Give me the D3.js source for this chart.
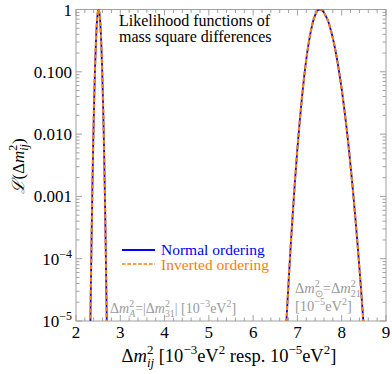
<!DOCTYPE html>
<html>
<head>
<meta charset="utf-8">
<script src="https://cdn.jsdelivr.net/npm/d3@7"></script>
<style>
  body { margin: 0; background: #fff; }
</style>
</head>
<body>
<svg></svg>
<script>
// atmospheric curve (Delta m^2_31, 10^-3 eV^2), log10 of likelihood
let atmX = [2.31, 2.33, 2.35, 2.37, 2.39, 2.41, 2.43, 2.45, 2.47, 2.49, 2.51,
            2.53, 2.55, 2.57, 2.59, 2.61, 2.63, 2.65, 2.67, 2.69, 2.71]
let atmNormal = [-5.86, -4.75, -3.75, -2.87, -2.11, -1.47, -0.94, -0.53, -0.23, -0.06, 0,
                 -0.06, -0.23, -0.53, -0.94, -1.47, -2.11, -2.87, -3.75, -4.75, -5.86]
let atmInverted = [-5.86, -4.75, -3.75, -2.87, -2.11, -1.47, -0.94, -0.53, -0.23, -0.06, 0,
                   -0.06, -0.23, -0.53, -0.94, -1.47, -2.11, -2.87, -3.75, -4.75, -5.86]

// solar curve (Delta m^2_21, 10^-5 eV^2)
let solX = [6.70, 6.75, 6.80, 6.85, 6.90, 6.95, 7.00, 7.05, 7.10, 7.15, 7.20, 7.25, 7.30,
            7.35, 7.40, 7.45, 7.50, 7.55, 7.60, 7.65, 7.70, 7.75, 7.80, 7.85, 7.90, 7.95,
            8.00, 8.05, 8.10, 8.15, 8.20, 8.25, 8.30, 8.35, 8.40, 8.45, 8.50, 8.55]
let solNormal = [-5.72, -5.02, -4.38, -3.77, -3.22, -2.70, -2.23, -1.81, -1.43, -1.09, -0.80, -0.56, -0.36,
                 -0.20, -0.09, -0.02, 0, -0.01, -0.05, -0.12, -0.20, -0.32, -0.46, -0.63, -0.82, -1.04,
                 -1.28, -1.55, -1.84, -2.16, -2.51, -2.88, -3.28, -3.70, -4.15, -4.62, -5.12, -5.64]
let solInverted = solNormal.slice()

let xTicks = [2, 3, 4, 5, 6, 7, 8, 9]
let yTicks = [1, 0.1, 0.01, 0.001, 1e-4, 1e-5]
let yTickLabels = ["1", "0.100", "0.010", "0.001", "10^-4", "10^-5"]

let width = 392
let height = 374
let padL = 76, padR = 386, padT = 9.5, padB = 321
let frameColor = "#a0a0a0"
let blue = "#0000ff"
let orange = "#ff8000"
let grey = "#9a9a9a"
let serif = "'Liberation Serif', 'Times New Roman', Times, serif"

let svg = d3.select('svg').attr('width', width).attr('height', height)
  .attr('font-family', serif)

let xScale = d3.scaleLinear().domain([2, 9]).range([padL, padR])
let yScale = d3.scaleLog().domain([1e-5, 1]).range([padB, padT])

// rich text: parts = [text, mode, italic]; mode n | sup | sub | subk (sub under previous sup)
let rich = (sel, parts, fs) => {
  let shift = 0
  let lastSupW = 0
  parts.forEach(p => {
    let mode = p[1] || 'n'
    let target = mode == 'sup' ? -0.42 * fs : (mode == 'sub' || mode == 'subk') ? 0.25 * fs : 0
    let t = sel.append('tspan').text(p[0]).attr('dy', target - shift)
    if (mode != 'n') t.attr('font-size', fs * 0.7)
    if (mode == 'subk') t.attr('dx', -lastSupW)
    if (mode == 'sup') lastSupW = p[0].length * fs * 0.7 * 0.5
    if (p[2]) t.attr('font-style', 'italic')
    shift = target
  })
}

// frame
svg.append('rect')
  .attr('x', padL).attr('y', padT)
  .attr('width', padR - padL).attr('height', padB - padT)
  .attr('fill', 'none').attr('stroke', frameColor).attr('stroke-width', 1)

// x ticks (bottom + top)
let xMinor = d3.range(2, 9.001, 0.2).map(v => Math.round(v * 10) / 10)
xMinor.forEach(v => {
  let major = Number.isInteger(v)
  let len = major ? 6 : 3.5
  let x = xScale(v)
  svg.append('line').attr('x1', x).attr('x2', x).attr('y1', padB).attr('y2', padB - len)
    .attr('stroke', frameColor)
  svg.append('line').attr('x1', x).attr('x2', x).attr('y1', padT).attr('y2', padT + len)
    .attr('stroke', frameColor)
})
svg.selectAll('.xlab').data(xTicks).enter().append('text')
  .attr('x', d => xScale(d)).attr('y', 338)
  .attr('text-anchor', 'middle').attr('font-size', 17)
  .text(d => d)

// y ticks (left + right)
for (let e = -5; e <= 0; e++) {
  for (let m = 1; m <= 9; m++) {
    let v = m * Math.pow(10, e)
    let len = m == 1 ? 6 : 3.5
    let y = yScale(v)
    svg.append('line').attr('x1', padL).attr('x2', padL + len).attr('y1', y).attr('y2', y)
      .attr('stroke', frameColor)
    svg.append('line').attr('x1', padR).attr('x2', padR - len).attr('y1', y).attr('y2', y)
      .attr('stroke', frameColor)
    if (e == 0) break
  }
}
yTicks.forEach((v, i) => {
  let t = svg.append('text')
    .attr('x', 72).attr('y', yScale(v) + 6)
    .attr('text-anchor', 'end').attr('font-size', 17)
  let lab = yTickLabels[i]
  if (lab.indexOf('^') >= 0) {
    let p = lab.split('^')
    rich(t, [[p[0]], [p[1].replace('-', '\u2212'), 'sup']], 17)
  } else {
    t.text(lab)
  }
})

// curves
svg.append('clipPath').attr('id', 'clip').append('rect')
  .attr('x', padL).attr('y', padT).attr('width', padR - padL).attr('height', padB - padT)

let line = d3.line()
  .x(d => xScale(d[0]))
  .y(d => yScale(Math.pow(10, d[1])))
  .curve(d3.curveMonotoneX)

let g = svg.append('g').attr('clip-path', 'url(#clip)')
let series = [
  [atmX, atmNormal, blue, null],
  [solX, solNormal, blue, null],
  [atmX, atmInverted, orange, '4,2.2'],
  [solX, solInverted, orange, '4,2.2']
]
series.forEach(s => {
  let pts = s[0].map((x, i) => [x, s[1][i]])
  let p = g.append('path').attr('d', line(pts))
    .attr('fill', 'none').attr('stroke', s[2])
    .attr('stroke-width', s[3] ? 2.2 : 1.8)
  if (s[3]) p.attr('stroke-dasharray', s[3])
})

// title
svg.append('text').attr('x', 119).attr('y', 26).attr('font-size', 16)
  .text('Likelihood functions of')
svg.append('text').attr('x', 119).attr('y', 42).attr('font-size', 16)
  .text('mass square differences')

// legend
svg.append('line').attr('x1', 122).attr('x2', 155).attr('y1', 250).attr('y2', 250)
  .attr('stroke', blue).attr('stroke-width', 1.8)
svg.append('text').attr('x', 161).attr('y', 255).attr('font-size', 15.5)
  .attr('fill', blue).text('Normal ordering')
svg.append('line').attr('x1', 122).attr('x2', 155).attr('y1', 264).attr('y2', 264)
  .attr('stroke', orange).attr('stroke-width', 1.6).attr('stroke-dasharray', '3.6,1.8')
svg.append('text').attr('x', 161).attr('y', 270).attr('font-size', 15.5)
  .attr('fill', orange).text('Inverted ordering')

// annotations
let a1 = svg.append('text').attr('x', 110).attr('y', 313).attr('font-size', 14).attr('fill', grey)
rich(a1, [['\u0394'], ['m', 'n', true], ['2', 'sup'], ['A', 'subk', true], ['=|\u0394'], ['m', 'n', true],
  ['2', 'sup'], ['31', 'subk'], ['| [10'], ['\u22123', 'sup'], ['eV'], ['2', 'sup'], [']']], 14)

let a2 = svg.append('text').attr('x', 295).attr('y', 293).attr('font-size', 14.5).attr('fill', grey)
rich(a2, [['\u0394'], ['m', 'n', true], ['2', 'sup'], ['\u2299', 'subk'], ['=\u0394'], ['m', 'n', true],
  ['2', 'sup'], ['21', 'subk']], 14.5)
let a3 = svg.append('text').attr('x', 295).attr('y', 311).attr('font-size', 14.5).attr('fill', grey)
rich(a3, [['[10'], ['\u22125', 'sup'], ['eV'], ['2', 'sup'], [']']], 14.5)

// axis labels
let xl = svg.append('text').attr('x', 229).attr('y', 362).attr('text-anchor', 'middle').attr('font-size', 18.5)
rich(xl, [['\u0394'], ['m', 'n', true], ['2', 'sup'], ['ij', 'subk', true], [' [10'], ['\u22123', 'sup'],
  ['eV'], ['2', 'sup'], [' resp. 10'], ['\u22125', 'sup'], ['eV'], ['2', 'sup'], [']']], 18.5)

let yl = svg.append('text').attr('transform', 'translate(24,166) rotate(-90)')
  .attr('text-anchor', 'middle').attr('font-size', 17)
rich(yl, [['\u2112', 'n', true], ['(\u0394'], ['m', 'n', true], ['2', 'sup'], ['ij', 'subk', true], [')']], 17)
</script>
</body>
</html>
